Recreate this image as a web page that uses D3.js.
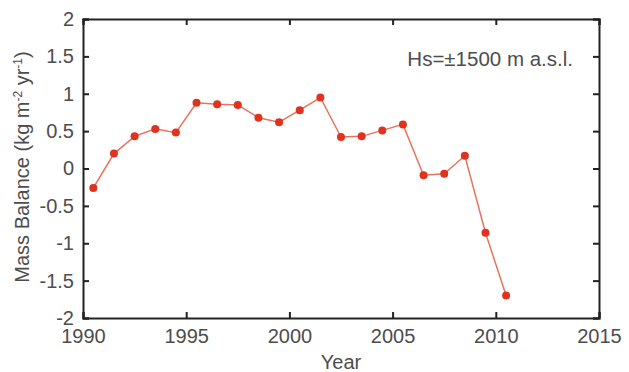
<!DOCTYPE html>
<html>
<head>
<meta charset="utf-8">
<script src="https://cdn.jsdelivr.net/npm/d3@7"></script>
<style>
  body { margin: 0; background: #fff; }
  svg { font-family: "Liberation Sans", Arial, sans-serif; }
  .axis text { fill: #4d4d4d; font-size: 20px; }
</style>
</head>
<body>
<div id="chart"></div>
<script>
// mass balance per year (points sit mid-year)
var years = [1990.5, 1991.5, 1992.5, 1993.5, 1994.5, 1995.5, 1996.5, 1997.5, 1998.5, 1999.5,
             2000.5, 2001.5, 2002.5, 2003.5, 2004.5, 2005.5, 2006.5, 2007.5, 2008.5, 2009.5, 2010.5];
var balance = [-0.26, 0.20, 0.43, 0.53, 0.48, 0.88, 0.86, 0.85, 0.68, 0.62,
               0.78, 0.95, 0.42, 0.43, 0.51, 0.59, -0.09, -0.07, 0.17, -0.86, -1.70];
var xTicks = [1990, 1995, 2000, 2005, 2010, 2015];
var yTicks = [-2, -1.5, -1, -0.5, 0, 0.5, 1, 1.5, 2];
var note = "Hs=\u00b11500 m a.s.l.";

var W = 629, H = 372,
    margin = {top: 19, right: 30, bottom: 54, left: 83},
    width = W - margin.left - margin.right,
    height = H - margin.top - margin.bottom;

var data = years.map(function(y, i) { return {year: y, mb: balance[i]}; });

var svg = d3.select("#chart").append("svg")
    .attr("width", W).attr("height", H);
var g = svg.append("g")
    .attr("transform", "translate(" + margin.left + "," + margin.top + ")");

var x = d3.scaleLinear().domain([1990, 2015]).range([0, width]);
var y = d3.scaleLinear().domain([-2, 2]).range([height, 0]);
var fmt = function(d) { return String(d); };

// axes: inward ticks on all four sides
g.append("g").attr("class", "axis")
    .attr("transform", "translate(0," + height + ")")
    .call(d3.axisBottom(x).tickValues(xTicks).tickSize(-6).tickPadding(11).tickFormat(fmt));
g.append("g").attr("class", "axis")
    .call(d3.axisTop(x).tickValues(xTicks).tickSize(-6).tickFormat(""));
g.append("g").attr("class", "axis")
    .call(d3.axisLeft(y).tickValues(yTicks).tickSize(-6).tickPadding(9).tickFormat(fmt));
g.append("g").attr("class", "axis")
    .attr("transform", "translate(" + width + ",0)")
    .call(d3.axisRight(y).tickValues(yTicks).tickSize(-6).tickFormat(""));

g.selectAll(".axis path").attr("stroke", "#222").attr("stroke-width", 2);
g.selectAll(".axis line").attr("stroke", "#222").attr("stroke-width", 2);
g.selectAll(".axis text").attr("fill", "#4d4d4d");

// series
g.append("path")
    .datum(data)
    .attr("fill", "none")
    .attr("stroke", "#e8735c")
    .attr("stroke-width", 1.5)
    .attr("d", d3.line().x(function(d) { return x(d.year); }).y(function(d) { return y(d.mb); }));

g.selectAll("circle")
    .data(data)
    .enter().append("circle")
    .attr("cx", function(d) { return x(d.year); })
    .attr("cy", function(d) { return y(d.mb); })
    .attr("r", 4)
    .attr("fill", "#e0321f");

// annotation
g.append("text")
    .attr("x", width - 26).attr("y", 47)
    .attr("text-anchor", "end")
    .attr("fill", "#4d4d4d")
    .style("font-size", "20.5px")
    .text(note);

// axis labels
svg.append("text")
    .attr("x", margin.left + width / 2).attr("y", 369)
    .attr("text-anchor", "middle")
    .attr("fill", "#4d4d4d")
    .style("font-size", "20px")
    .text("Year");

var yl = svg.append("text")
    .attr("transform", "translate(29,167) rotate(-90)")
    .attr("text-anchor", "middle")
    .attr("fill", "#4d4d4d")
    .style("font-size", "20px");
yl.append("tspan").text("Mass Balance (kg m");
yl.append("tspan").attr("dy", -7).style("font-size", "12px").text("-2");
yl.append("tspan").attr("dy", 7).text(" yr");
yl.append("tspan").attr("dy", -7).style("font-size", "12px").text("-1");
yl.append("tspan").attr("dy", 7).text(")");
</script>
</body>
</html>
